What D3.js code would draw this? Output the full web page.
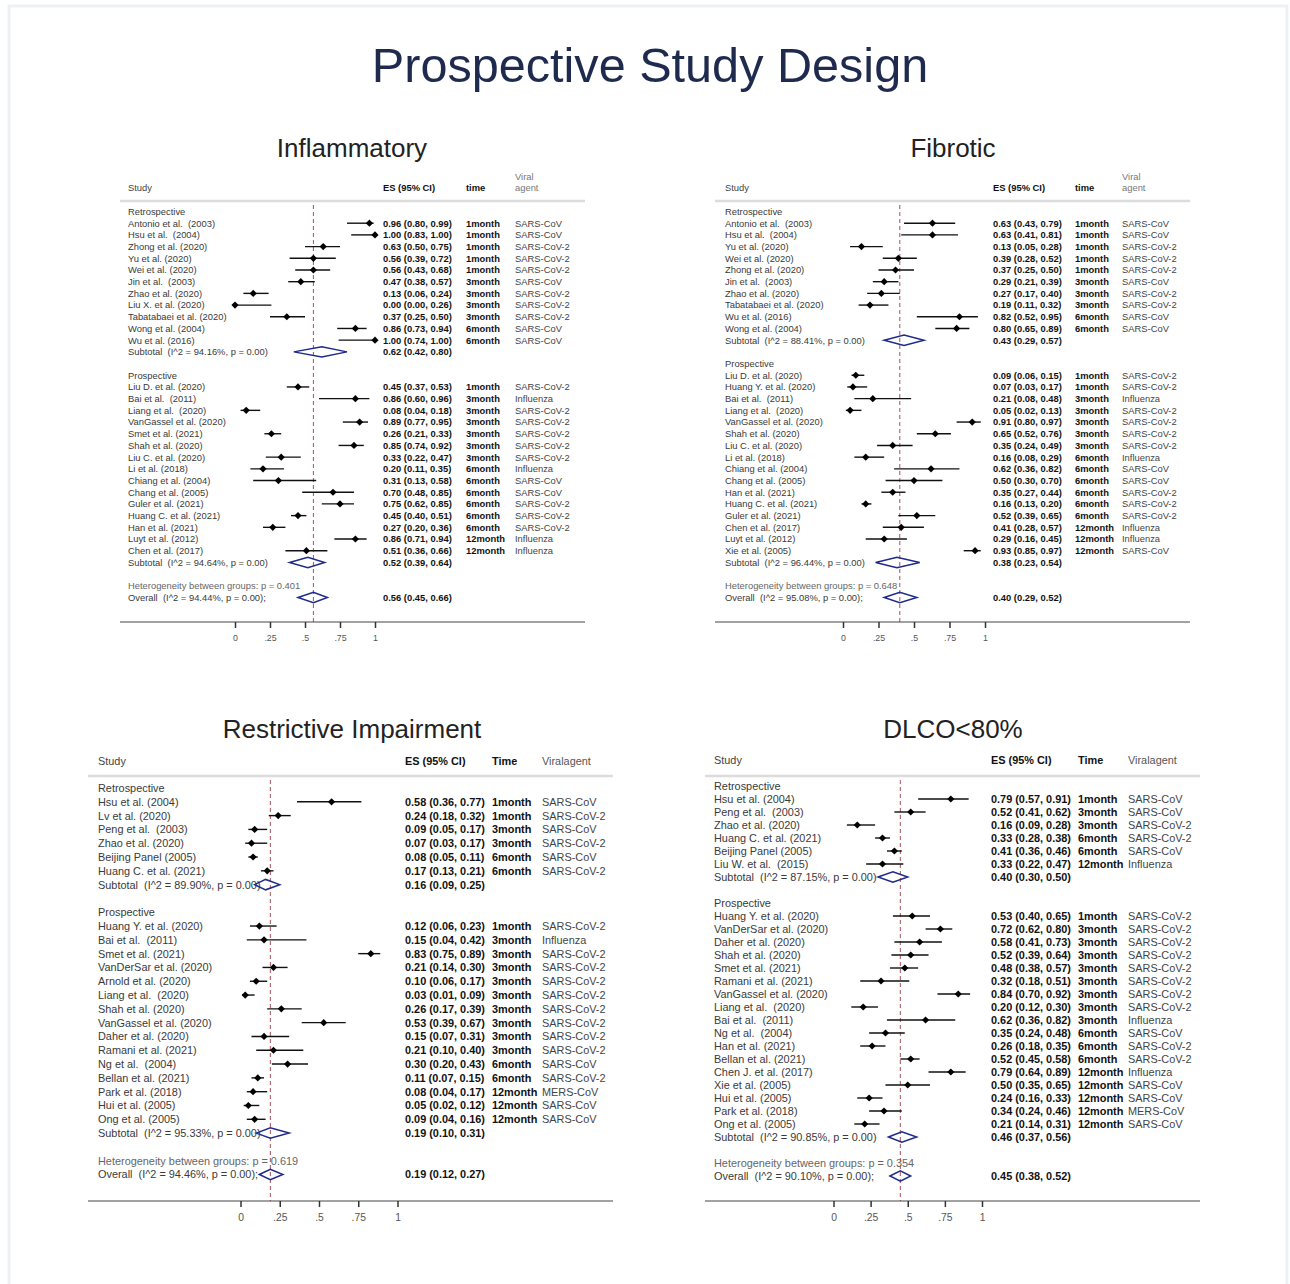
<!DOCTYPE html>
<html>
<head>
<meta charset="utf-8">
<script src="https://cdn.jsdelivr.net/npm/d3@7"></script>
<style>
    body { margin: 0; background: #fff; }
    svg { display: block; font-family: "Liberation Sans", Arial, sans-serif; }
</style>
</head>
<body>
<div class="chart-container"></div>
<script>
// data: [study, ES, lower, upper, time, viral agent]
const groupLabels = ['Retrospective', 'Prospective'];
const tickValues = [0, 0.25, 0.5, 0.75, 1];
const tickLabels = ['0', '.25', '.5', '.75', '1'];

// inflammatory
const inflRetro = [
    ['Antonio et al.  (2003)', 0.96, 0.80, 0.99, '1month', 'SARS-CoV'],
    ['Hsu et al.  (2004)', 1.00, 0.83, 1.00, '1month', 'SARS-CoV'],
    ['Zhong et al. (2020)', 0.63, 0.50, 0.75, '1month', 'SARS-CoV-2'],
    ['Yu et al. (2020)', 0.56, 0.39, 0.72, '1month', 'SARS-CoV-2'],
    ['Wei et al. (2020)', 0.56, 0.43, 0.68, '1month', 'SARS-CoV-2'],
    ['Jin et al.  (2003)', 0.47, 0.38, 0.57, '3month', 'SARS-CoV'],
    ['Zhao et al. (2020)', 0.13, 0.06, 0.24, '3month', 'SARS-CoV-2'],
    ['Liu X. et al. (2020)', 0.00, 0.00, 0.26, '3month', 'SARS-CoV-2'],
    ['Tabatabaei et al. (2020)', 0.37, 0.25, 0.50, '3month', 'SARS-CoV-2'],
    ['Wong et al. (2004)', 0.86, 0.73, 0.94, '6month', 'SARS-CoV'],
    ['Wu et al. (2016)', 1.00, 0.74, 1.00, '6month', 'SARS-CoV']
];
const inflPros = [
    ['Liu D. et al. (2020)', 0.45, 0.37, 0.53, '1month', 'SARS-CoV-2'],
    ['Bai et al.  (2011)', 0.86, 0.60, 0.96, '3month', 'Influenza'],
    ['Liang et al.  (2020)', 0.08, 0.04, 0.18, '3month', 'SARS-CoV-2'],
    ['VanGassel et al. (2020)', 0.89, 0.77, 0.95, '3month', 'SARS-CoV-2'],
    ['Smet et al. (2021)', 0.26, 0.21, 0.33, '3month', 'SARS-CoV-2'],
    ['Shah et al. (2020)', 0.85, 0.74, 0.92, '3month', 'SARS-CoV-2'],
    ['Liu C. et al. (2020)', 0.33, 0.22, 0.47, '3month', 'SARS-CoV-2'],
    ['Li et al. (2018)', 0.20, 0.11, 0.35, '6month', 'Influenza'],
    ['Chiang et al. (2004)', 0.31, 0.13, 0.58, '6month', 'SARS-CoV'],
    ['Chang et al. (2005)', 0.70, 0.48, 0.85, '6month', 'SARS-CoV'],
    ['Guler et al. (2021)', 0.75, 0.62, 0.85, '6month', 'SARS-CoV-2'],
    ['Huang C. et al. (2021)', 0.45, 0.40, 0.51, '6month', 'SARS-CoV-2'],
    ['Han et al. (2021)', 0.27, 0.20, 0.36, '6month', 'SARS-CoV-2'],
    ['Luyt et al. (2012)', 0.86, 0.71, 0.94, '12month', 'Influenza'],
    ['Chen et al. (2017)', 0.51, 0.36, 0.66, '12month', 'Influenza']
];
// [I^2 %, p, ES, lower, upper]
const inflSubtotals = [[94.16, 0.00, 0.62, 0.42, 0.80], [94.64, 0.00, 0.52, 0.39, 0.64]];
const inflOverall = [94.44, 0.00, 0.56, 0.45, 0.66];
const inflHetP = 0.401;

// fibrotic
const fibRetro = [
    ['Antonio et al.  (2003)', 0.63, 0.43, 0.79, '1month', 'SARS-CoV'],
    ['Hsu et al.  (2004)', 0.63, 0.41, 0.81, '1month', 'SARS-CoV'],
    ['Yu et al. (2020)', 0.13, 0.05, 0.28, '1month', 'SARS-CoV-2'],
    ['Wei et al. (2020)', 0.39, 0.28, 0.52, '1month', 'SARS-CoV-2'],
    ['Zhong et al. (2020)', 0.37, 0.25, 0.50, '1month', 'SARS-CoV-2'],
    ['Jin et al.  (2003)', 0.29, 0.21, 0.39, '3month', 'SARS-CoV'],
    ['Zhao et al. (2020)', 0.27, 0.17, 0.40, '3month', 'SARS-CoV-2'],
    ['Tabatabaei et al. (2020)', 0.19, 0.11, 0.32, '3month', 'SARS-CoV-2'],
    ['Wu et al. (2016)', 0.82, 0.52, 0.95, '6month', 'SARS-CoV'],
    ['Wong et al. (2004)', 0.80, 0.65, 0.89, '6month', 'SARS-CoV']
];
const fibPros = [
    ['Liu D. et al. (2020)', 0.09, 0.06, 0.15, '1month', 'SARS-CoV-2'],
    ['Huang Y. et al. (2020)', 0.07, 0.03, 0.17, '1month', 'SARS-CoV-2'],
    ['Bai et al.  (2011)', 0.21, 0.08, 0.48, '3month', 'Influenza'],
    ['Liang et al.  (2020)', 0.05, 0.02, 0.13, '3month', 'SARS-CoV-2'],
    ['VanGassel et al. (2020)', 0.91, 0.80, 0.97, '3month', 'SARS-CoV-2'],
    ['Shah et al. (2020)', 0.65, 0.52, 0.76, '3month', 'SARS-CoV-2'],
    ['Liu C. et al. (2020)', 0.35, 0.24, 0.49, '3month', 'SARS-CoV-2'],
    ['Li et al. (2018)', 0.16, 0.08, 0.29, '6month', 'Influenza'],
    ['Chiang et al. (2004)', 0.62, 0.36, 0.82, '6month', 'SARS-CoV'],
    ['Chang et al. (2005)', 0.50, 0.30, 0.70, '6month', 'SARS-CoV'],
    ['Han et al. (2021)', 0.35, 0.27, 0.44, '6month', 'SARS-CoV-2'],
    ['Huang C. et al. (2021)', 0.16, 0.13, 0.20, '6month', 'SARS-CoV-2'],
    ['Guler et al. (2021)', 0.52, 0.39, 0.65, '6month', 'SARS-CoV-2'],
    ['Chen et al. (2017)', 0.41, 0.28, 0.57, '12month', 'Influenza'],
    ['Luyt et al. (2012)', 0.29, 0.16, 0.45, '12month', 'Influenza'],
    ['Xie et al. (2005)', 0.93, 0.85, 0.97, '12month', 'SARS-CoV']
];
const fibSubtotals = [[88.41, 0.00, 0.43, 0.29, 0.57], [96.44, 0.00, 0.38, 0.23, 0.54]];
const fibOverall = [95.08, 0.00, 0.40, 0.29, 0.52];
const fibHetP = 0.648;

// restrictive impairment
const restRetro = [
    ['Hsu et al. (2004)', 0.58, 0.36, 0.77, '1month', 'SARS-CoV'],
    ['Lv et al. (2020)', 0.24, 0.18, 0.32, '1month', 'SARS-CoV-2'],
    ['Peng et al.  (2003)', 0.09, 0.05, 0.17, '3month', 'SARS-CoV'],
    ['Zhao et al. (2020)', 0.07, 0.03, 0.17, '3month', 'SARS-CoV-2'],
    ['Beijing Panel (2005)', 0.08, 0.05, 0.11, '6month', 'SARS-CoV'],
    ['Huang C. et al. (2021)', 0.17, 0.13, 0.21, '6month', 'SARS-CoV-2']
];
const restPros = [
    ['Huang Y. et al. (2020)', 0.12, 0.06, 0.23, '1month', 'SARS-CoV-2'],
    ['Bai et al.  (2011)', 0.15, 0.04, 0.42, '3month', 'Influenza'],
    ['Smet et al. (2021)', 0.83, 0.75, 0.89, '3month', 'SARS-CoV-2'],
    ['VanDerSar et al. (2020)', 0.21, 0.14, 0.30, '3month', 'SARS-CoV-2'],
    ['Arnold et al. (2020)', 0.10, 0.06, 0.17, '3month', 'SARS-CoV-2'],
    ['Liang et al.  (2020)', 0.03, 0.01, 0.09, '3month', 'SARS-CoV-2'],
    ['Shah et al. (2020)', 0.26, 0.17, 0.39, '3month', 'SARS-CoV-2'],
    ['VanGassel et al. (2020)', 0.53, 0.39, 0.67, '3month', 'SARS-CoV-2'],
    ['Daher et al. (2020)', 0.15, 0.07, 0.31, '3month', 'SARS-CoV-2'],
    ['Ramani et al. (2021)', 0.21, 0.10, 0.40, '3month', 'SARS-CoV-2'],
    ['Ng et al.  (2004)', 0.30, 0.20, 0.43, '6month', 'SARS-CoV'],
    ['Bellan et al. (2021)', 0.11, 0.07, 0.15, '6month', 'SARS-CoV-2'],
    ['Park et al. (2018)', 0.08, 0.04, 0.17, '12month', 'MERS-CoV'],
    ['Hui et al. (2005)', 0.05, 0.02, 0.12, '12month', 'SARS-CoV'],
    ['Ong et al. (2005)', 0.09, 0.04, 0.16, '12month', 'SARS-CoV']
];
const restSubtotals = [[89.90, 0.00, 0.16, 0.09, 0.25], [95.33, 0.00, 0.19, 0.10, 0.31]];
const restOverall = [94.46, 0.00, 0.19, 0.12, 0.27];
const restHetP = 0.619;

// DLCO < 80%
const dlcoRetro = [
    ['Hsu et al. (2004)', 0.79, 0.57, 0.91, '1month', 'SARS-CoV'],
    ['Peng et al.  (2003)', 0.52, 0.41, 0.62, '3month', 'SARS-CoV'],
    ['Zhao et al. (2020)', 0.16, 0.09, 0.28, '3month', 'SARS-CoV-2'],
    ['Huang C. et al. (2021)', 0.33, 0.28, 0.38, '6month', 'SARS-CoV-2'],
    ['Beijing Panel (2005)', 0.41, 0.36, 0.46, '6month', 'SARS-CoV'],
    ['Liu W. et al.  (2015)', 0.33, 0.22, 0.47, '12month', 'Influenza']
];
const dlcoPros = [
    ['Huang Y. et al. (2020)', 0.53, 0.40, 0.65, '1month', 'SARS-CoV-2'],
    ['VanDerSar et al. (2020)', 0.72, 0.62, 0.80, '3month', 'SARS-CoV-2'],
    ['Daher et al. (2020)', 0.58, 0.41, 0.73, '3month', 'SARS-CoV-2'],
    ['Shah et al. (2020)', 0.52, 0.39, 0.64, '3month', 'SARS-CoV-2'],
    ['Smet et al. (2021)', 0.48, 0.38, 0.57, '3month', 'SARS-CoV-2'],
    ['Ramani et al. (2021)', 0.32, 0.18, 0.51, '3month', 'SARS-CoV-2'],
    ['VanGassel et al. (2020)', 0.84, 0.70, 0.92, '3month', 'SARS-CoV-2'],
    ['Liang et al.  (2020)', 0.20, 0.12, 0.30, '3month', 'SARS-CoV-2'],
    ['Bai et al.  (2011)', 0.62, 0.36, 0.82, '3month', 'Influenza'],
    ['Ng et al.  (2004)', 0.35, 0.24, 0.48, '6month', 'SARS-CoV'],
    ['Han et al. (2021)', 0.26, 0.18, 0.35, '6month', 'SARS-CoV-2'],
    ['Bellan et al. (2021)', 0.52, 0.45, 0.58, '6month', 'SARS-CoV-2'],
    ['Chen J. et al. (2017)', 0.79, 0.64, 0.89, '12month', 'Influenza'],
    ['Xie et al. (2005)', 0.50, 0.35, 0.65, '12month', 'SARS-CoV'],
    ['Hui et al. (2005)', 0.24, 0.16, 0.33, '12month', 'SARS-CoV'],
    ['Park et al. (2018)', 0.34, 0.24, 0.46, '12month', 'MERS-CoV'],
    ['Ong et al. (2005)', 0.21, 0.14, 0.31, '12month', 'SARS-CoV']
];
const dlcoSubtotals = [[87.15, 0.00, 0.40, 0.30, 0.50], [90.85, 0.00, 0.46, 0.37, 0.56]];
const dlcoOverall = [90.10, 0.00, 0.45, 0.38, 0.52];
const dlcoHetP = 0.354;

// layout of the four panels
const panels = [
    {
        title: 'Inflammatory', titleX: 352, titleY: 157, fs: 9.4, tickFs: 8.8,
        left: 120, right: 585, headY: 191, lineY: 201, rowY0: 211.5, rowY1: 597.5, axisY: 622,
        x0: 235, x1: 375, cols: [128, 383, 466, 515],
        heads: ['Study', 'ES (95% CI)', 'time', ['Viral', 'agent']],
        retro: inflRetro, pros: inflPros, subs: inflSubtotals, overall: inflOverall, het: inflHetP
    },
    {
        title: 'Fibrotic', titleX: 953, titleY: 157, fs: 9.4, tickFs: 8.8,
        left: 715, right: 1190, headY: 191, lineY: 201, rowY0: 211.5, rowY1: 597.5, axisY: 622,
        x0: 843, x1: 985, cols: [725, 993, 1075, 1122],
        heads: ['Study', 'ES (95% CI)', 'time', ['Viral', 'agent']],
        retro: fibRetro, pros: fibPros, subs: fibSubtotals, overall: fibOverall, het: fibHetP
    },
    {
        title: 'Restrictive Impairment', titleX: 352, titleY: 738, fs: 10.9, tickFs: 10.3,
        left: 88, right: 613, headY: 765, lineY: 776, rowY0: 788, rowY1: 1174.5, axisY: 1201,
        x0: 240.5, x1: 397.5, cols: [98, 405, 492, 542],
        heads: ['Study', 'ES (95% CI)', 'Time', 'Viralagent'],
        retro: restRetro, pros: restPros, subs: restSubtotals, overall: restOverall, het: restHetP
    },
    {
        title: 'DLCO<80%', titleX: 953, titleY: 738, fs: 10.9, tickFs: 10.3,
        left: 705, right: 1200, headY: 764, lineY: 776, rowY0: 786, rowY1: 1176, axisY: 1201,
        x0: 833.5, x1: 982, cols: [714, 991, 1078, 1128],
        heads: ['Study', 'ES (95% CI)', 'Time', 'Viralagent'],
        retro: dlcoRetro, pros: dlcoPros, subs: dlcoSubtotals, overall: dlcoOverall, het: dlcoHetP
    }
];

const f2 = d3.format('.2f');
const esText = (es, lo, hi) => `${f2(es)} (${f2(lo)}, ${f2(hi)})`;
const diamond = (cx, cy, hw, hh) =>
    `M${cx - hw},${cy}L${cx},${cy - hh}L${cx + hw},${cy}L${cx},${cy + hh}Z`;

// build the row list of one panel
function buildRows(p) {
    const rows = [];
    [p.retro, p.pros].forEach((grp, gi) => {
        rows.push({ type: 'group', label: groupLabels[gi] });
        grp.forEach(d => rows.push({
            type: 'study', label: d[0], es: d[1], lo: d[2], hi: d[3], time: d[4], agent: d[5]
        }));
        const s = p.subs[gi];
        rows.push({
            type: 'pool', label: `Subtotal  (I^2 = ${f2(s[0])}%, p = ${f2(s[1])})`,
            es: s[2], lo: s[3], hi: s[4]
        });
        rows.push({ type: 'blank' });
    });
    rows.push({ type: 'het', label: `Heterogeneity between groups: p = ${d3.format('.3f')(p.het)}` });
    const o = p.overall;
    rows.push({
        type: 'pool', label: `Overall  (I^2 = ${f2(o[0])}%, p = ${f2(o[1])});`,
        es: o[2], lo: o[3], hi: o[4]
    });
    return rows;
}

function drawPanel(svg, p) {
    const rows = buildRows(p);
    const g = svg.append('g').attr('class', 'forest');
    const fs = p.fs;

    const xScale = d3.scaleLinear().domain([0, 1]).range([p.x0, p.x1]);
    const yScale = d3.scaleLinear().domain([0, rows.length - 1]).range([p.rowY0, p.rowY1]);
    const dy = fs * 0.36;

    // title
    g.append('text')
        .attr('x', p.titleX).attr('y', p.titleY)
        .attr('text-anchor', 'middle')
        .attr('font-size', 26).attr('fill', '#222')
        .text(p.title);

    // header
    const head = g.append('g').attr('font-size', fs);
    head.append('text').attr('x', p.cols[0]).attr('y', p.headY).attr('fill', '#444').text(p.heads[0]);
    head.append('text').attr('x', p.cols[1]).attr('y', p.headY).attr('fill', '#111')
        .attr('font-weight', 'bold').text(p.heads[1]);
    head.append('text').attr('x', p.cols[2]).attr('y', p.headY).attr('fill', '#111')
        .attr('font-weight', 'bold').text(p.heads[2]);
    if (Array.isArray(p.heads[3])) {
        head.append('text').attr('x', p.cols[3]).attr('y', p.headY - fs * 1.2).attr('fill', '#777').text(p.heads[3][0]);
        head.append('text').attr('x', p.cols[3]).attr('y', p.headY).attr('fill', '#777').text(p.heads[3][1]);
    } else {
        head.append('text').attr('x', p.cols[3]).attr('y', p.headY).attr('fill', '#555').text(p.heads[3]);
    }

    g.append('line')
        .attr('x1', p.left).attr('x2', p.right)
        .attr('y1', p.lineY).attr('y2', p.lineY)
        .attr('stroke', '#dcdcdc').attr('stroke-width', 2.5);

    // reference line at overall estimate
    g.append('line')
        .attr('x1', xScale(p.overall[2])).attr('x2', xScale(p.overall[2]))
        .attr('y1', p.lineY + 4).attr('y2', p.axisY)
        .attr('stroke', '#a8505a').attr('stroke-width', 1)
        .attr('stroke-dasharray', '4,3');

    // left labels
    g.append('g')
        .attr('font-size', fs)
        .selectAll('text')
        .data(rows.filter(d => d.label))
        .enter()
        .append('text')
        .attr('x', p.cols[0])
        .attr('y', d => yScale(rows.indexOf(d)) + dy)
        .attr('fill', d => d.type === 'het' ? '#666' : '#3a3a3a')
        .style('white-space', 'pre')
        .text(d => d.label);

    const est = rows.filter(d => d.type === 'study' || d.type === 'pool');

    // ES column
    g.append('g')
        .attr('font-size', fs).attr('font-weight', 'bold').attr('fill', '#111')
        .selectAll('text')
        .data(est)
        .enter()
        .append('text')
        .attr('x', p.cols[1])
        .attr('y', d => yScale(rows.indexOf(d)) + dy)
        .text(d => esText(d.es, d.lo, d.hi));

    const studies = rows.filter(d => d.type === 'study');

    // time and agent columns
    g.append('g')
        .attr('font-size', fs).attr('font-weight', 'bold').attr('fill', '#111')
        .selectAll('text')
        .data(studies)
        .enter()
        .append('text')
        .attr('x', p.cols[2])
        .attr('y', d => yScale(rows.indexOf(d)) + dy)
        .text(d => d.time);

    g.append('g')
        .attr('font-size', fs).attr('fill', '#444')
        .selectAll('text')
        .data(studies)
        .enter()
        .append('text')
        .attr('x', p.cols[3])
        .attr('y', d => yScale(rows.indexOf(d)) + dy)
        .text(d => d.agent);

    // confidence intervals
    g.append('g')
        .selectAll('line')
        .data(studies)
        .enter()
        .append('line')
        .attr('x1', d => xScale(d.lo)).attr('x2', d => xScale(d.hi))
        .attr('y1', d => yScale(rows.indexOf(d))).attr('y2', d => yScale(rows.indexOf(d)))
        .attr('stroke', '#111').attr('stroke-width', 1.4);

    g.append('g')
        .selectAll('path')
        .data(studies)
        .enter()
        .append('path')
        .attr('d', d => diamond(xScale(d.es), yScale(rows.indexOf(d)), 3.6, 3.6))
        .attr('fill', '#000');

    // pooled estimates
    g.append('g')
        .selectAll('path')
        .data(rows.filter(d => d.type === 'pool'))
        .enter()
        .append('path')
        .attr('d', d => {
            const cy = yScale(rows.indexOf(d));
            return `M${xScale(d.lo)},${cy}L${xScale(d.es)},${cy - 5.2}L${xScale(d.hi)},${cy}L${xScale(d.es)},${cy + 5.2}Z`;
        })
        .attr('fill', 'none')
        .attr('stroke', '#1f2a8a').attr('stroke-width', 1.5);

    // axis
    g.append('line')
        .attr('x1', p.left).attr('x2', p.right)
        .attr('y1', p.axisY).attr('y2', p.axisY)
        .attr('stroke', '#444').attr('stroke-width', 1);

    const xAxis = d3.axisBottom(xScale)
        .tickValues(tickValues)
        .tickFormat((d, i) => tickLabels[i])
        .tickSizeInner(6)
        .tickSizeOuter(0);

    const axisG = g.append('g')
        .attr('transform', `translate(0, ${p.axisY})`)
        .call(xAxis);
    axisG.select('.domain').remove();
    axisG.selectAll('.tick line').attr('stroke', '#333').attr('stroke-width', 1.5);
    axisG.selectAll('.tick text')
        .attr('font-size', p.tickFs)
        .attr('font-family', '"Liberation Sans", Arial, sans-serif')
        .attr('fill', '#555')
        .attr('dy', '1.1em');
}

const svg = d3.select('.chart-container')
    .append('svg')
    .attr('width', 1290)
    .attr('height', 1284);

// card frame
svg.append('rect')
    .attr('x', 9).attr('y', 6)
    .attr('width', 1278).attr('height', 1282)
    .attr('fill', '#fff')
    .attr('stroke', '#edf1f3').attr('stroke-width', 3);

svg.append('text')
    .attr('x', 650).attr('y', 82)
    .attr('text-anchor', 'middle')
    .attr('font-size', 48.6)
    .attr('fill', '#1f2b4e')
    .text('Prospective Study Design');

panels.forEach(p => drawPanel(svg, p));
</script>
</body>
</html>
